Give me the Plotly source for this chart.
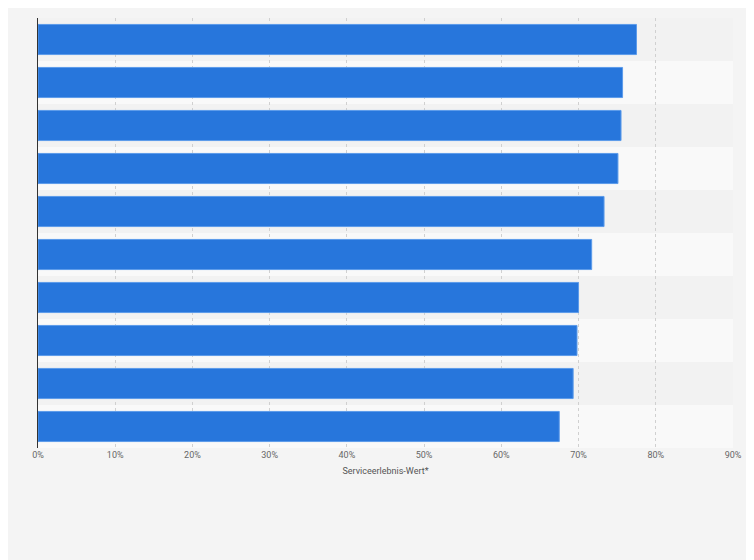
import plotly.graph_objects as go

categories = [f"Rang {i}" for i in range(1, 11)]
values = [77.5, 75.7, 75.5, 75.1, 73.3, 71.7, 70.0, 69.8, 69.3, 67.5]
tick_vals = [0, 10, 20, 30, 40, 50, 60, 70, 80, 90]
tick_text = [f"{v}%" for v in tick_vals]

fig = go.Figure(go.Bar(
    y=categories, x=values, orientation="h",
    marker=dict(color="#2776dc", line=dict(color="#5c9bea", width=1)),
    width=0.7, hoverinfo="x",
))
shapes = []
for i, c in enumerate(categories):
    shapes.append(dict(type="rect", xref="paper", yref="y", layer="below",
                       x0=0, x1=1, y0=i - 0.5, y1=i + 0.5, line_width=0,
                       fillcolor="#f2f2f2" if i % 2 == 0 else "#f9f9f9"))
fig.update_layout(
    width=754, height=560, paper_bgcolor="#f4f4f4", plot_bgcolor="#f4f4f4",
    margin=dict(l=30, r=29, t=10, b=120), shapes=shapes, showlegend=False,
    font=dict(family="Roboto, Arial", color="#666666"),
    bargap=0.3,
)
fig.update_yaxes(autorange="reversed", showticklabels=False, showgrid=False,
                 showline=True, linecolor="#333333", linewidth=1,
                 range=[9.5, -0.5])
fig.update_xaxes(range=[0, 90], tickvals=tick_vals, ticktext=tick_text,
                 tickfont=dict(size=9, color="#666666"), showgrid=True,
                 gridcolor="#d0d0d0", griddash="dot", zeroline=False,
                 title=dict(text="Serviceerlebnis-Wert*", font=dict(size=9, color="#555555"), standoff=8))
fig.write_html("out.html")
